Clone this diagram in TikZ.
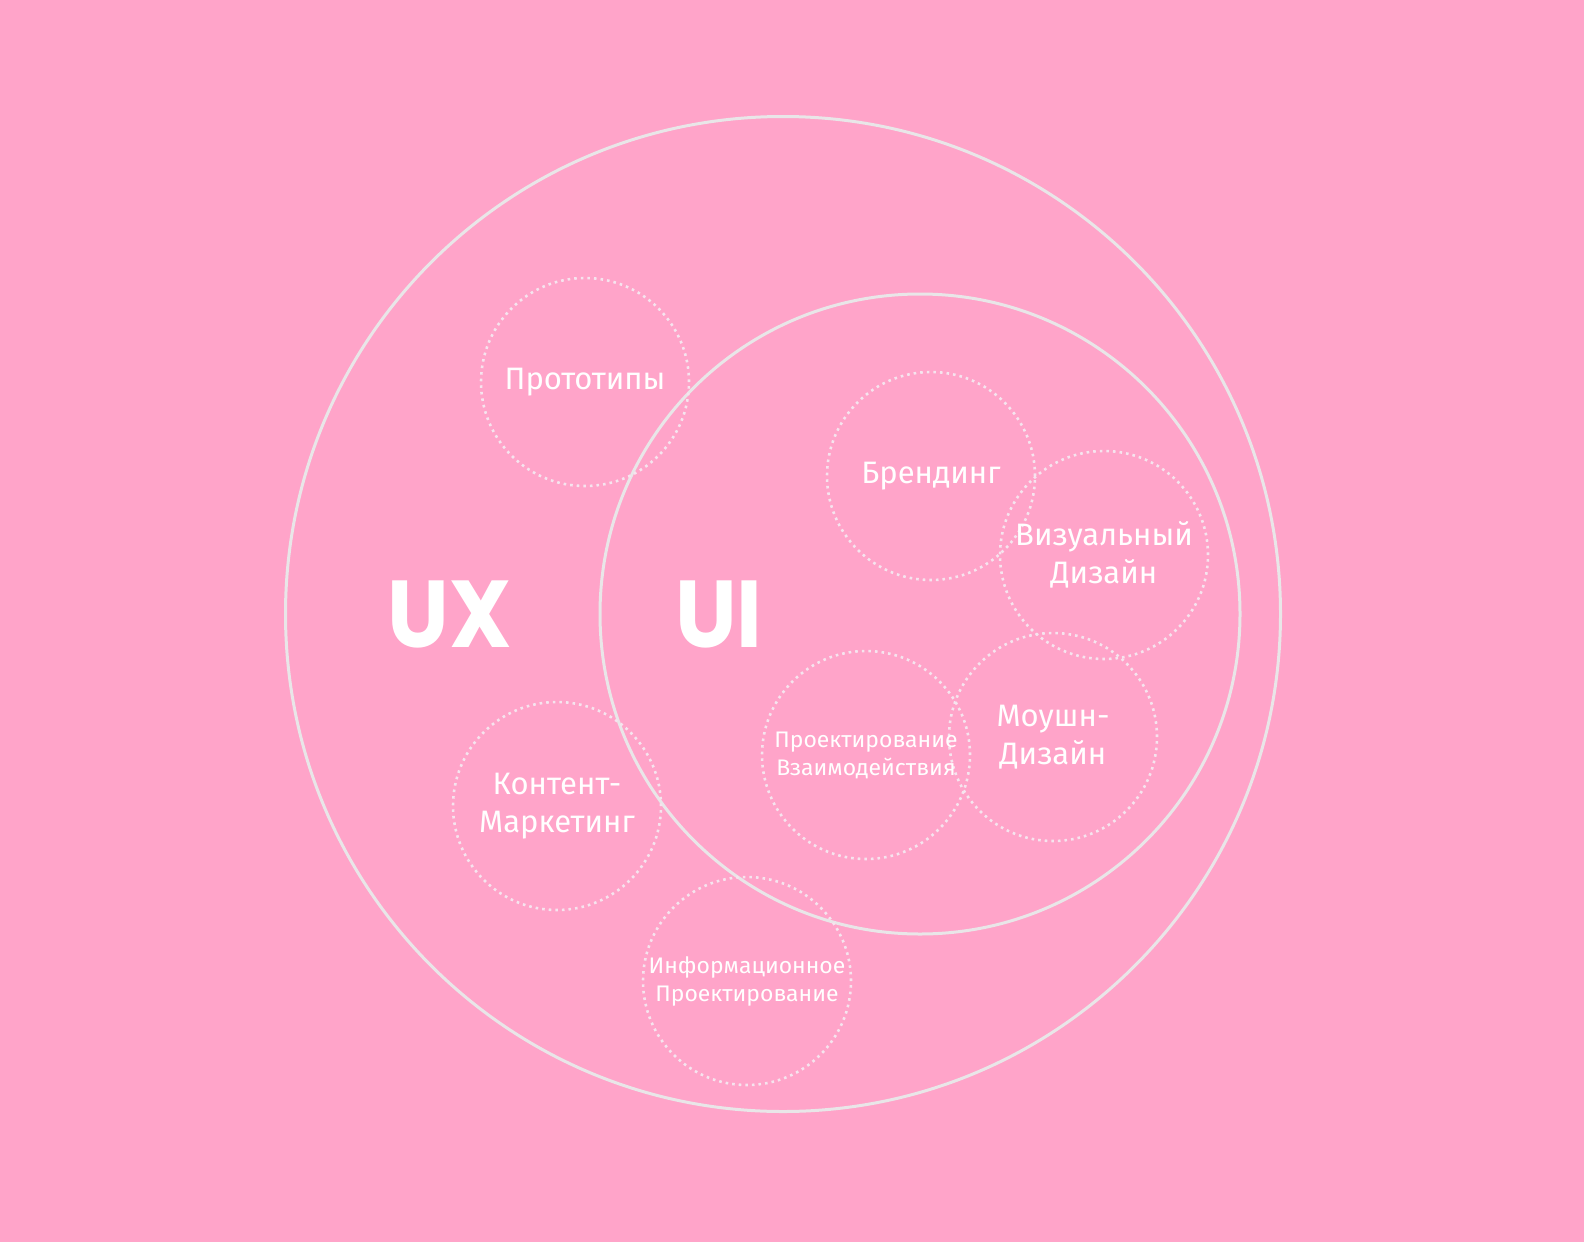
\documentclass[tikz,border=0pt]{standalone}
\usepackage{fontspec}
\setmainfont{Fira Sans}
\newfontfamily\boldf{Poppins}[UprightFont=* Bold,FakeStretch=0.92]
\newfontfamily\smallf{Fira Sans}[FakeStretch=1.02]
\definecolor{bg}{HTML}{FFA4C9}
\definecolor{ring}{HTML}{E9E6E8}
\definecolor{dots}{HTML}{F6E4EE}
\begin{document}
\begin{tikzpicture}[x=1pt,y=-1pt,
  bigring/.style={circle,draw=ring,line width=3pt,inner sep=0pt},
  dotring/.style={circle,draw=dots,line width=2.6pt,dash pattern=on 2.6pt off 4pt,inner sep=0pt,minimum size=208pt},
  lbl/.style={text=white,align=center,font=\fontsize{31}{38}\selectfont},
  slbl/.style={text=white,align=center,font=\smallf\fontsize{22.5}{28}\selectfont},
  big/.style={text=white,font=\boldf\fontsize{95}{95}\selectfont}]
\fill[bg] (0,0) rectangle (1584,1242);
\useasboundingbox (0,0) rectangle (1584,1242);
\node[bigring,minimum size=995pt] (ux) at (783,614) {};
\node[bigring,minimum size=640pt] (ui) at (920,614) {};
\node[dotring] (proto) at (585,382) {};
\node[dotring] (brand) at (931,476) {};
\node[dotring] (vis) at (1104,555) {};
\node[dotring] (motion) at (1053,737) {};
\node[dotring] (inter) at (866,755) {};
\node[dotring] (content) at (557,806) {};
\node[dotring] (info) at (747,981) {};
\node[big] (uxl) at (450,614) {UX};
\node[big] (uil) at (719,614) {UI};
\node[lbl] at (proto) {Прототипы};
\node[lbl] at (brand) {Брендинг};
\node[lbl] at (vis) {Визуальный\\Дизайн};
\node[lbl] at (motion) {Моушн-\\Дизайн};
\node[lbl] at (content) {Контент-\\Маркетинг};
\node[slbl] at (inter) {Проектирование\\Взаимодействия};
\node[slbl] at (info) {Информационное\\Проектирование};
\end{tikzpicture}
\end{document}
